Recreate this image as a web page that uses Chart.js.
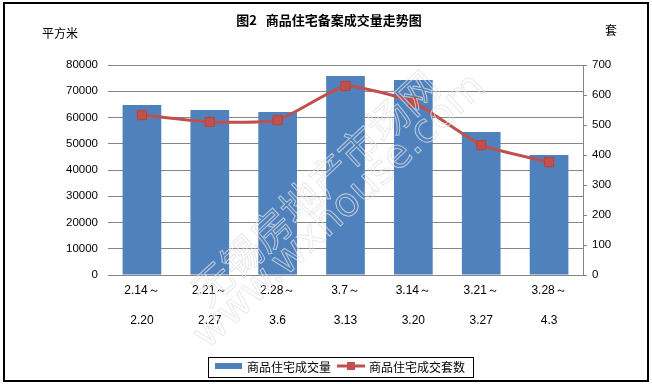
<!DOCTYPE html>
<html>
<head>
<meta charset="utf-8">
<script src="https://cdn.jsdelivr.net/npm/chart.js@4/dist/chart.umd.min.js"></script>
<style>
  html, body { margin: 0; padding: 0; background: #fff; }
  #wrap { position: relative; width: 652px; height: 384px; }
</style>
</head>
<body>
<div id="wrap"><canvas id="chart"></canvas></div>
<script>
const weeks = [
    ['2.14～', '2.20'], ['2.21～', '2.27'], ['2.28～', '3.6'], ['3.7～', '3.13'],
    ['3.14～', '3.20'], ['3.21～', '3.27'], ['3.28～', '4.3']
];
const areaSold = [64800, 62900, 62100, 75800, 74300, 54500, 45700];
const unitsSold = [533, 510, 516, 630, 576, 433, 376];

const titleText = '图2\u00a0\u00a0\u00a0商品住宅备案成交量走势图';
const leftUnit = '平方米';
const rightUnit = '套';

const CJK = '"Noto Sans CJK SC", "DejaVu Sans", sans-serif';
const NUM = '"Liberation Sans", "DejaVu Sans", sans-serif';

// title, unit labels, border, watermark, legend
const decor = {
    id: 'decor',
    afterDraw(chart) {
        const ctx = chart.ctx;
        ctx.save();

        // watermark
        ctx.strokeStyle = 'rgba(225,225,225,0.75)';
        ctx.lineWidth = 1;
        ctx.textAlign = 'center';
        ctx.textBaseline = 'middle';
        ctx.save();
        ctx.translate(315, 188);
        ctx.rotate(-43 * Math.PI / 180);
        ctx.font = '40px ' + CJK;
        ctx.strokeText('无锡房地产市场网', 0, 0);
        ctx.restore();
        ctx.save();
        ctx.translate(340, 212);
        ctx.rotate(-43 * Math.PI / 180);
        ctx.font = '40px "DejaVu Sans", sans-serif';
        ctx.strokeText('www.wxhouse.com', 0, 0);
        ctx.restore();

        ctx.fillStyle = '#000';
        ctx.font = 'bold 13px ' + CJK;
        ctx.fillText(titleText, 329, 20);
        ctx.font = '12px ' + CJK;
        ctx.fillText(leftUnit, 60, 33);
        ctx.fillText(rightUnit, 611, 30);

        // legend
        const bars = chart.data.datasets.find(d => d.type !== 'line');
        const line = chart.data.datasets.find(d => d.type === 'line');
        ctx.strokeStyle = '#000';
        ctx.lineWidth = 1;
        ctx.strokeRect(208.5, 357.5, 265, 20);
        ctx.fillStyle = bars.backgroundColor;
        ctx.fillRect(215, 363, 27, 6);
        ctx.fillStyle = '#000';
        ctx.textAlign = 'left';
        ctx.fillText(bars.label, 247, 367);
        ctx.strokeStyle = line.borderColor;
        ctx.lineWidth = 3;
        ctx.beginPath();
        ctx.moveTo(337, 366);
        ctx.lineTo(365, 366);
        ctx.stroke();
        ctx.fillStyle = line.pointBackgroundColor;
        ctx.fillRect(347, 362, 8, 8);
        ctx.fillStyle = '#000';
        ctx.fillText(line.label, 369, 367);

        // outer frame
        ctx.strokeStyle = '#000';
        ctx.lineWidth = 2;
        ctx.strokeRect(4, 3, 644, 378);
        ctx.restore();
    }
};

new Chart(document.getElementById('chart'), {
    type: 'bar',
    data: {
        labels: weeks,
        datasets: [
            {
                type: 'line',
                label: '商品住宅成交套数',
                data: unitsSold,
                yAxisID: 'y1',
                borderColor: '#C0504D',
                borderWidth: 3,
                tension: 0.15,
                pointStyle: 'rect',
                pointRadius: 6.5,
                pointBackgroundColor: '#C0504D',
                pointBorderColor: '#B7443F',
                pointBorderWidth: 1,
                order: 0
            },
            {
                type: 'bar',
                label: '商品住宅成交量',
                data: areaSold,
                yAxisID: 'y',
                backgroundColor: '#4F81BD',
                categoryPercentage: 1,
                barPercentage: 0.57,
                order: 1
            }
        ]
    },
    options: {
        responsive: true,
        maintainAspectRatio: false,
        animation: false,
        layout: { padding: { top: 65, left: 0, right: 0, bottom: 0 } },
        plugins: {
            legend: { display: false },
            title: { display: false },
            tooltip: { enabled: false }
        },
        scales: {
            x: {
                grid: { display: false, drawTicks: false },
                border: { display: true, color: '#868686' },
                ticks: {
                    color: '#000',
                    padding: 1,
                    maxRotation: 0,
                    autoSkip: false,
                    font: { family: NUM, size: 12, lineHeight: 2.5 }
                },
                afterFit(scale) { scale.height = 109; }
            },
            y: {
                position: 'left',
                min: 0,
                max: 80000,
                grid: { color: '#868686', drawTicks: false },
                border: { display: false },
                ticks: {
                    stepSize: 10000,
                    padding: 10,
                    color: '#000',
                    font: { family: NUM, size: 11.5 },
                    callback: v => String(v)
                },
                afterFit(scale) { scale.width = 108; }
            },
            y1: {
                position: 'right',
                min: 0,
                max: 700,
                grid: { drawOnChartArea: false, color: '#868686', tickLength: 4 },
                border: { display: true, color: '#868686' },
                ticks: {
                    stepSize: 100,
                    padding: 5,
                    color: '#000',
                    font: { family: NUM, size: 11.5 },
                    callback: v => String(v)
                },
                afterFit(scale) { scale.width = 69; }
            }
        }
    },
    plugins: [decor]
});
</script>
</body>
</html>
